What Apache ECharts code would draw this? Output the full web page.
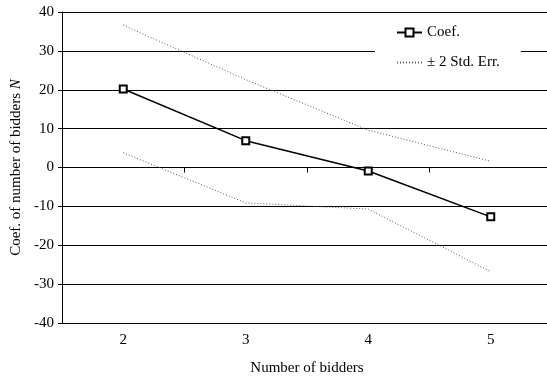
<!DOCTYPE html>
<html><head><meta charset="utf-8">
<script src="https://cdn.jsdelivr.net/npm/echarts@6/dist/echarts.min.js"></script>
<style>html,body{margin:0;padding:0;background:#fff}#c{width:547px;height:379px}</style>
</head><body><div id="c"></div>
<script>
var categories = ['2', '3', '4', '5'];
var coef = [20.2, 6.9, -0.9, -12.7];
var upperErr = [36.6, 22.6, 9.6, 1.6];
var lowerErr = [3.8, -9.1, -10.7, -26.8];
var yTicks = { min: -40, max: 40, step: 10 };

var FONT = '"Liberation Serif", "Times New Roman", serif';
var FS = 15;
var chart = echarts.init(document.getElementById('c'), null, { renderer: 'canvas' });
var errStyle = { color: '#555', width: 1, type: [1, 2] };
chart.setOption({
  animation: false,
  textStyle: { fontFamily: FONT, color: '#000' },
  grid: { left: 62, width: 490, top: 12, bottom: 56, outerBoundsMode: 'none', containLabel: false },
  legend: {
    orient: 'vertical', left: 375, top: 20,
    padding: [5, 21, 5, 21],
    backgroundColor: '#fff',
    itemWidth: 25, itemHeight: 10, itemGap: 15,
    textStyle: { fontFamily: FONT, fontSize: FS, color: '#000' },
    data: ['Coef.', { name: '± 2 Std. Err.', itemStyle: { opacity: 0 } }]
  },
  xAxis: {
    type: 'category', data: categories, boundaryGap: true,
    name: 'Number of bidders', nameLocation: 'middle', nameGap: 38,
    nameTextStyle: { fontFamily: FONT, fontSize: FS, color: '#000' },
    axisLine: { lineStyle: { color: '#000', width: 1 } },
    axisTick: { show: true, length: 5, lineStyle: { color: '#000' } },
    axisLabel: { fontFamily: FONT, fontSize: FS, color: '#000', margin: 10 },
    splitLine: { show: false }
  },
  yAxis: {
    type: 'value', min: yTicks.min, max: yTicks.max, interval: yTicks.step,
    name: '{a|Coef. of number of bidders }{b|N}', nameLocation: 'middle', nameGap: 37,
    nameTextStyle: { fontFamily: FONT, fontSize: FS, color: '#000',
      rich: { a: { fontFamily: FONT, fontSize: FS, color: '#000' },
              b: { fontFamily: FONT, fontSize: FS, color: '#000', fontStyle: 'italic' } } },
    axisLine: { show: true, lineStyle: { color: '#000', width: 1 } },
    axisTick: { show: true, length: 4, lineStyle: { color: '#000' } },
    axisLabel: { fontFamily: FONT, fontSize: FS, color: '#000', margin: 8 },
    splitLine: { show: true, lineStyle: { color: '#000', width: 1 } }
  },
  series: [
    { name: 'Coef.', type: 'line', data: coef, symbol: 'emptyRect', symbolSize: 7,
      lineStyle: { color: '#000', width: 1.5 }, itemStyle: { color: '#000', borderWidth: 1 }, z: 5 },
    { name: '± 2 Std. Err.', type: 'line', data: upperErr, symbol: 'none',
      lineStyle: errStyle, itemStyle: { color: '#555' } },
    { name: '± 2 Std. Err.', type: 'line', data: lowerErr, symbol: 'none',
      lineStyle: errStyle, itemStyle: { color: '#555' } }
  ]
});
</script></body></html>
